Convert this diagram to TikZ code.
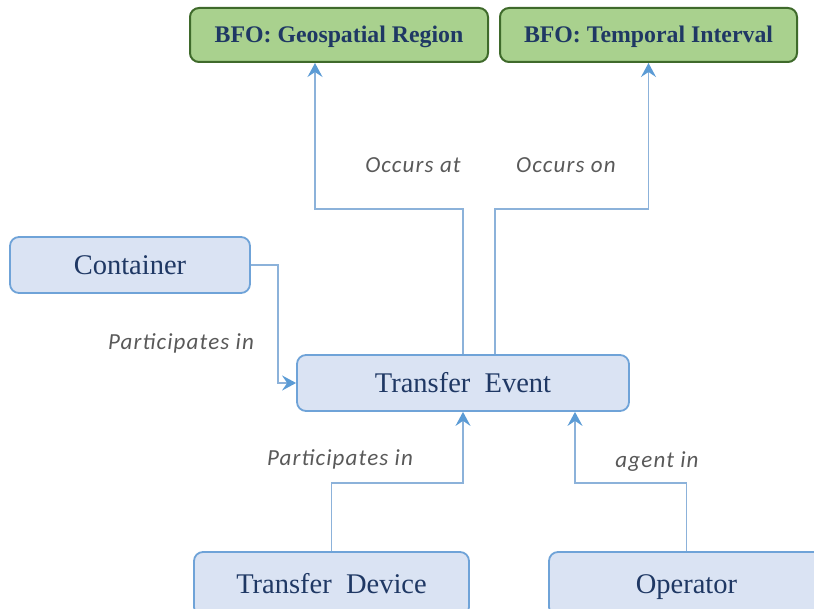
\documentclass[tikz,border=0pt]{standalone}
\usepackage{fontspec}
\setmainfont{Liberation Serif}
\newfontfamily\labelfont[LetterSpace=5]{Carlito}
\usetikzlibrary{arrows.meta}
\definecolor{bfofill}{HTML}{A9D18E}
\definecolor{bfoline}{HTML}{3F6A2B}
\definecolor{navy}{HTML}{1F3864}
\definecolor{boxfill}{HTML}{DAE3F3}
\definecolor{boxline}{HTML}{6FA3D8}
\definecolor{connline}{HTML}{8CB2DA}
\definecolor{tipblue}{HTML}{5B9BD5}
\definecolor{labelgray}{HTML}{595959}
\tikzset{
  bfobox/.style={draw=bfoline, line width=2pt, fill=bfofill, rounded corners=9pt,
    text=navy, font=\fontsize{23.8}{28}\selectfont\bfseries, inner sep=0pt,
    text height=16pt, text depth=0pt},
  classbox/.style={draw=boxline, line width=1.8pt, fill=boxfill, rounded corners=9pt,
    text=navy, font=\fontsize{28.5}{32}\selectfont, inner sep=0pt,
    text height=19pt, text depth=0pt},
  conn/.style={draw=connline, line width=1.3pt,
    -{Stealth[length=14pt,width=15pt,inset=5pt,color=tipblue]}},
  rel/.style={text=labelgray, font=\fontsize{23}{27}\selectfont\labelfont\itshape}
}
\begin{document}
\begin{tikzpicture}[x=1pt,y=-1pt]
  \clip (0,0) rectangle (814,609);
  \useasboundingbox (0,0) rectangle (814,609);

  % BFO upper-level classes
  \node[bfobox, minimum width=298pt, minimum height=54pt] (geo) at (339,35) {BFO: Geospatial Region};
  \node[bfobox, minimum width=297pt, minimum height=54pt] (temp) at (648.5,35) {BFO: Temporal Interval};

  % domain classes
  \node[classbox, minimum width=240pt, minimum height=56pt] (cont) at (130,265) {Container};
  \node[classbox, minimum width=332pt, minimum height=56pt] (te) at (463,383) {Transfer\ \ Event};
  \node[classbox, minimum width=275pt, minimum height=64pt] (dev) at (331.5,584) {Transfer\ \ Device};
  \node[classbox, minimum width=275pt, minimum height=64pt] (op) at (686.5,584) {Operator};

  % relations
  \draw[conn] (te.north) -- (te.north |- 0,209) -| ([xshift=-24pt]geo.south);
  \draw[conn] ([xshift=32pt]te.north) -- ([xshift=32pt]te.north |- 0,209) -| (temp.south);
  \draw[conn] (cont.east) -- ++(27,0) |- (te.west);
  \draw[conn] (dev.north) -- (dev.north |- 0,483) -| (te.south);
  \draw[conn] (op.north) -- (op.north |- 0,483) -| ([xshift=112pt]te.south);

  % relation labels
  \node[rel] (l1) at (413,165) {Occurs at};
  \node[rel] (l2) at (566,165) {Occurs on};
  \node[rel] (l3) at (181,343) {Participates in};
  \node[rel] (l4) at (340,459) {Participates in};
  \node[rel] (l5) at (657,462) {agent in};
\end{tikzpicture}
\end{document}
